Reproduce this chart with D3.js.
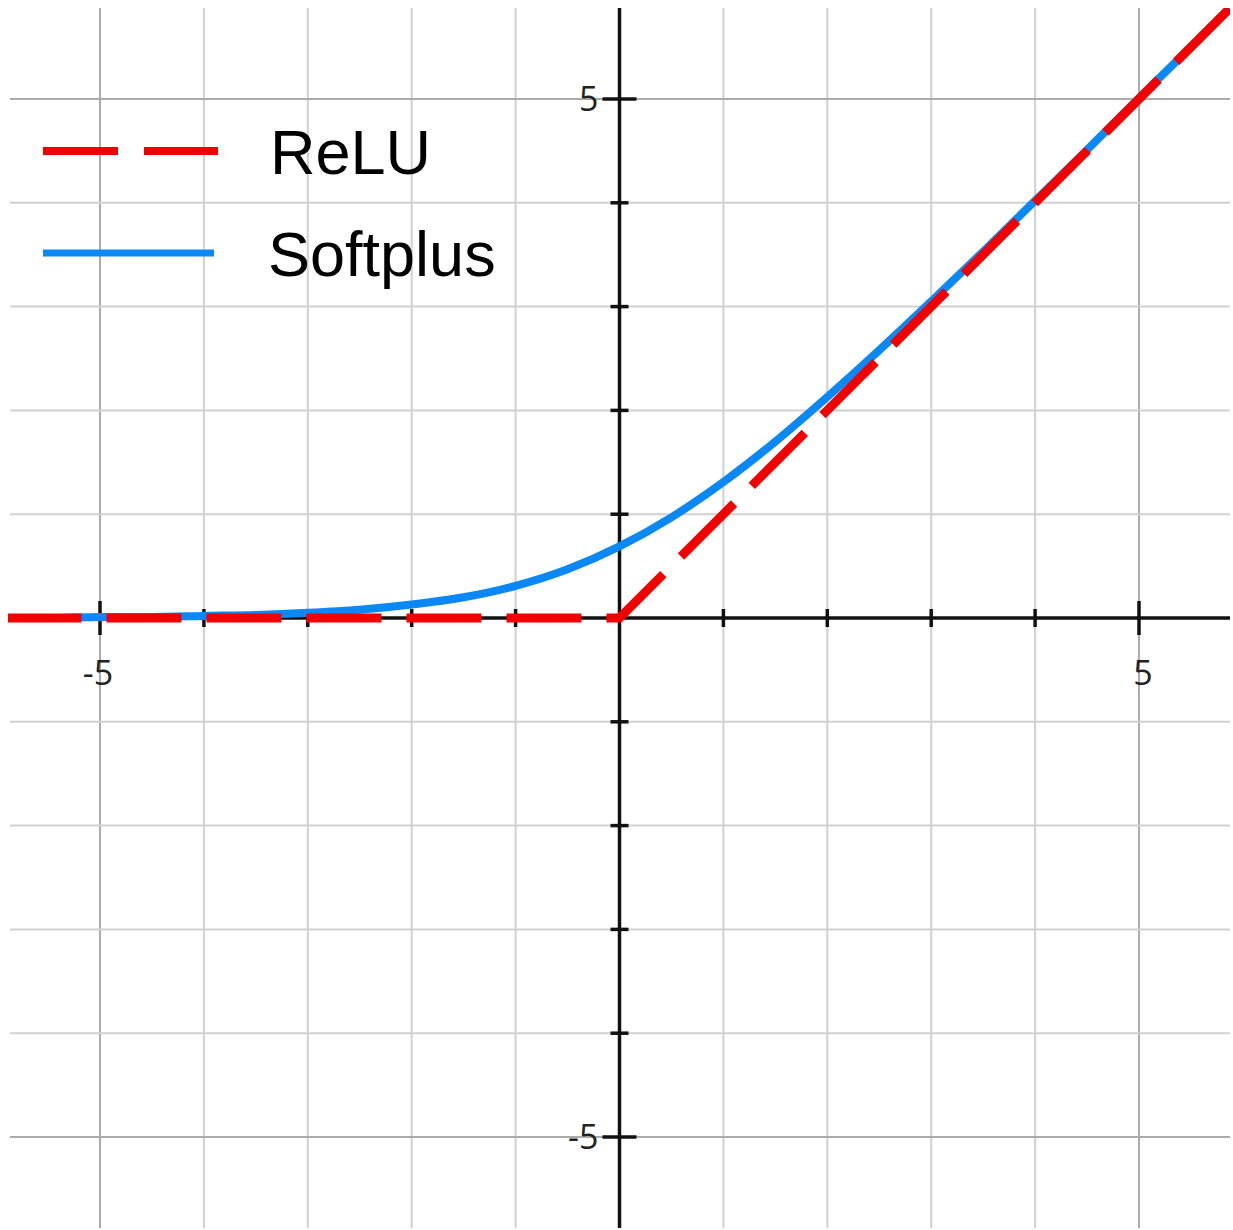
<!DOCTYPE html>
<html>
<head>
<meta charset="utf-8">
<script src="https://cdn.jsdelivr.net/npm/d3@7"></script>
<style>
  html, body { margin: 0; padding: 0; background: #ffffff; }
  svg { display: block; }
</style>
</head>
<body>
<div id="chart"></div>
<script>
// Tick positions (integers), labelled ones
const gridTicks = [-5, -4, -3, -2, -1, 1, 2, 3, 4, 5];
const labelTicks = [-5, 5];

// ReLU (dashed red)
const reluX = [-5.9, 0, 5.9];
const reluY = [0, 0, 5.9];

// Softplus (solid blue)
const softX = [-5.9, -5.5, -5, -4.5, -4, -3.5, -3, -2.5, -2, -1.5, -1, -0.5, 0, 0.5, 1, 1.5, 2, 2.5, 3, 3.5, 4, 4.5, 5, 5.5, 5.9];
const softY = [0.00, 0.00, 0.01, 0.01, 0.02, 0.03, 0.05, 0.08, 0.13, 0.20, 0.31, 0.47, 0.69, 0.97, 1.31, 1.70, 2.13, 2.58, 3.05, 3.53, 4.02, 4.51, 5.01, 5.50, 5.90];

const legendLabels = ['ReLU', 'Softplus'];

const W = 1233, H = 1230;
const plot = { left: 8, right: 1230, top: 8, bottom: 1228 };

const svg = d3.select('#chart')
    .append('svg')
    .attr('width', W)
    .attr('height', H);

// Scales: x=-5 at 100, x=5 at 1139; y=5 at 99, y=-5 at 1137
const x = d3.scaleLinear().domain([-5, 5]).range([100, 1139]);
const y = d3.scaleLinear().domain([-5, 5]).range([1137, 99]);

svg.append('defs').append('clipPath')
    .attr('id', 'plot-clip')
    .append('rect')
    .attr('x', plot.left)
    .attr('y', plot.top)
    .attr('width', plot.right - plot.left)
    .attr('height', plot.bottom - plot.top);

// Grid lines
const grid = svg.append('g').attr('class', 'grid');
grid.selectAll('.vgrid')
    .data(gridTicks)
    .enter()
    .append('line')
    .attr('x1', d => x(d)).attr('x2', d => x(d))
    .attr('y1', plot.top).attr('y2', plot.bottom)
    .attr('stroke', d => Math.abs(d) === 5 ? '#ababab' : '#d0d0d0')
    .attr('stroke-width', 2);

grid.selectAll('.hgrid')
    .data(gridTicks)
    .enter()
    .append('line')
    .attr('x1', plot.left + 2).attr('x2', plot.right)
    .attr('y1', d => y(d)).attr('y2', d => y(d))
    .attr('stroke', d => Math.abs(d) === 5 ? '#ababab' : '#d0d0d0')
    .attr('stroke-width', 2);

// Axes
const axes = svg.append('g').attr('class', 'axes');
axes.append('line')
    .attr('x1', plot.left + 2).attr('x2', plot.right)
    .attr('y1', y(0)).attr('y2', y(0))
    .attr('stroke', '#111').attr('stroke-width', 3.5);
axes.append('line')
    .attr('x1', x(0)).attr('x2', x(0))
    .attr('y1', plot.top).attr('y2', plot.bottom)
    .attr('stroke', '#111').attr('stroke-width', 3.5);

// Tick marks: longer at +-5
axes.selectAll('.xtick')
    .data(gridTicks)
    .enter()
    .append('line')
    .attr('x1', d => x(d)).attr('x2', d => x(d))
    .attr('y1', d => y(0) - (Math.abs(d) === 5 ? 17 : 9))
    .attr('y2', d => y(0) + (Math.abs(d) === 5 ? 17 : 9))
    .attr('stroke', '#111').attr('stroke-width', 3.5);

axes.selectAll('.ytick')
    .data(gridTicks)
    .enter()
    .append('line')
    .attr('y1', d => y(d)).attr('y2', d => y(d))
    .attr('x1', d => x(0) - (Math.abs(d) === 5 ? 17 : 9))
    .attr('x2', d => x(0) + (Math.abs(d) === 5 ? 17 : 9))
    .attr('stroke', '#111').attr('stroke-width', 3.5);

// Tick labels
const labels = svg.append('g')
    .style('font-family', '"Open Sans", "DejaVu Sans", sans-serif')
    .style('font-size', '34px')
    .style('fill', '#222');

labels.selectAll('.xlabel')
    .data(labelTicks)
    .enter()
    .append('text')
    .attr('x', d => x(d) + (d < 0 ? -2 : 4))
    .attr('y', y(0) + 55)
    .attr('dy', '0.35em')
    .attr('text-anchor', 'middle')
    .text(d => d);

labels.selectAll('.ylabel')
    .data(labelTicks)
    .enter()
    .append('text')
    .attr('x', x(0) - 21)
    .attr('y', d => y(d))
    .attr('dy', '0.35em')
    .attr('text-anchor', 'end')
    .text(d => d);

// Lines
const lineGen = d3.line()
    .x(d => x(d[0]))
    .y(d => y(d[1]));

const curves = svg.append('g').attr('clip-path', 'url(#plot-clip)');

curves.append('path')
    .datum(softX.map((v, i) => [v, softY[i]]))
    .attr('d', lineGen.curve(d3.curveMonotoneX))
    .attr('fill', 'none')
    .attr('stroke', '#0a88f5')
    .attr('stroke-width', 8);

curves.append('path')
    .datum(reluX.map((v, i) => [v, reluY[i]]))
    .attr('d', d3.line().x(d => x(d[0])).y(d => y(d[1])))
    .attr('fill', 'none')
    .attr('stroke', '#f20000')
    .attr('stroke-width', 9)
    .attr('stroke-dasharray', '75,25');

// Legend
const legend = svg.append('g').attr('class', 'legend');
legend.append('line')
    .attr('x1', 43).attr('x2', 218)
    .attr('y1', 151).attr('y2', 151)
    .attr('stroke', '#f20000')
    .attr('stroke-width', 8)
    .attr('stroke-dasharray', '75,26');
legend.append('line')
    .attr('x1', 43).attr('x2', 214)
    .attr('y1', 253).attr('y2', 253)
    .attr('stroke', '#0a88f5')
    .attr('stroke-width', 7);

legend.selectAll('.legend-text')
    .data(legendLabels)
    .enter()
    .append('text')
    .attr('x', (d, i) => i === 0 ? 270 : 268)
    .attr('y', (d, i) => i === 0 ? 174 : 276)
    .style('font-family', '"Liberation Sans", Arial, sans-serif')
    .style('font-size', '63px')
    .style('fill', '#000')
    .text(d => d);
</script>
</body>
</html>
